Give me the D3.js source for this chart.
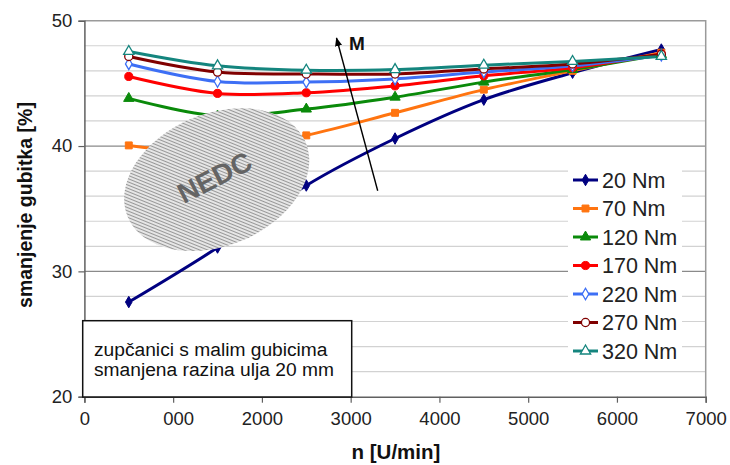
<!DOCTYPE html>
<html><head><meta charset="utf-8">
<script src="https://cdn.jsdelivr.net/npm/d3@7"></script>
<style>
html,body{margin:0;padding:0;background:#fff;}
svg{display:block;font-family:Arial,"Liberation Sans",sans-serif;}
</style></head>
<body>
<svg id="chart" width="730" height="465"></svg>
<script>
// ---- data ----
const speeds = [500, 1500, 2500, 3500, 4500, 5500, 6500];
const seriesNames = ["20 Nm", "70 Nm", "120 Nm", "170 Nm", "220 Nm", "270 Nm", "320 Nm"];
const nm20  = [27.55, 31.9, 36.85, 40.6, 43.7, 45.85, 47.7];
const nm70  = [40.05, 39.5, 40.85, 42.65, 44.5, 46.0, 47.45];
const nm120 = [43.8, 42.4, 42.95, 43.9, 45.1, 46.1, 47.3];
const nm170 = [45.55, 44.2, 44.25, 44.8, 45.6, 46.25, 47.35];
const nm220 = [46.55, 45.15, 45.1, 45.35, 45.9, 46.4, 47.25];
const nm270 = [47.15, 45.9, 45.75, 45.75, 46.15, 46.55, 47.3];
const nm320 = [47.55, 46.4, 46.05, 46.1, 46.45, 46.75, 47.15];
const xTicks = [0, 1000, 2000, 3000, 4000, 5000, 6000, 7000];
const xTickLabels = ["0", "000", "2000", "3000", "4000", "5000", "6000", "7000"];
const yTicks = [20, 30, 40, 50];
const yGrid = [22, 24, 26, 28, 32, 34, 36, 38, 42, 44, 46, 48];
const colors = ["#000080", "#ff7410", "#0a8a0a", "#ff0000", "#3d6ff5", "#800000", "#14857e"];
const markers = ["diamond", "square", "triangle", "circle", "diamond", "circle", "triangle"];
const hollow = [false, false, false, false, true, true, true];
const allValues = [nm20, nm70, nm120, nm170, nm220, nm270, nm320];

// ---- layout ----
const L = 84.4, R = 705.7, T = 20.7, B = 396.7;
const svg = d3.select("#chart");
const x = d3.scaleLinear().domain([0, 7000]).range([L, R]);
const y = d3.scaleLinear().domain([20, 50]).range([B, T]);

// minor gridlines
svg.append("g").selectAll("line").data(yGrid).join("line")
  .attr("x1", L).attr("x2", R).attr("y1", d => y(d)).attr("y2", d => y(d))
  .attr("stroke", "#d2d2d2").attr("stroke-width", 1.2);
// major gridlines
svg.append("g").selectAll("line").data(yTicks.filter(d => d > 20 && d < 50)).join("line")
  .attr("x1", L).attr("x2", R).attr("y1", d => y(d)).attr("y2", d => y(d))
  .attr("stroke", "#8a8a8a").attr("stroke-width", 1.2);
// top & right border
svg.append("path").attr("d", `M${L},${T}H${R}V${B}`).attr("fill", "none")
  .attr("stroke", "#9a9a9a").attr("stroke-width", 1.5);

// series
const line = d3.line().x((d, i) => x(speeds[i])).y(d => y(d)).curve(d3.curveCatmullRom.alpha(0.5));
const symType = {diamond: d3.symbolDiamond, square: d3.symbolSquare, triangle: d3.symbolTriangle, circle: d3.symbolCircle};
const symSize = {diamond: 38, square: 48, triangle: 46, circle: 52};

const gS = svg.append("g");
allValues.forEach((vals, si) => {
  gS.append("path").attr("d", line(vals)).attr("fill", "none")
    .attr("stroke", colors[si]).attr("stroke-width", 3);
});
allValues.forEach((vals, si) => {
  gS.append("g").selectAll("path").data(vals).join("path")
    .attr("transform", (d, i) => `translate(${x(speeds[i])},${y(d)})`)
    .attr("d", d3.symbol().type(symType[markers[si]]).size(symSize[markers[si]]))
    .attr("fill", hollow[si] ? "#fff" : colors[si])
    .attr("stroke", colors[si]).attr("stroke-width", hollow[si] ? 1.3 : 1);
});

// NEDC ellipse with hatching
const defs = svg.append("defs");
const pat = defs.append("pattern").attr("id", "hatch").attr("patternUnits", "userSpaceOnUse")
  .attr("width", 3).attr("height", 3).attr("patternTransform", "rotate(-45)");
pat.append("rect").attr("width", 3).attr("height", 3).attr("fill", "#e6e6e6");
pat.append("line").attr("x1", 0).attr("y1", 0).attr("x2", 0).attr("y2", 3)
  .attr("stroke", "#7c7c7c").attr("stroke-width", 1.5);
const ell = svg.append("g").attr("transform", "translate(216.7,179.7) rotate(-22.8)");
ell.append("ellipse").attr("rx", 96.5).attr("ry", 66).attr("fill", "url(#hatch)");
svg.append("text").attr("transform", "translate(219,186) rotate(-27)")
  .attr("text-anchor", "middle").attr("font-weight", "bold").attr("font-size", 28)
  .attr("fill", "#646464").text("NEDC");

// arrow M
defs.append("marker").attr("id", "arrowhead").attr("viewBox", "0 0 10 10")
  .attr("refX", 9).attr("refY", 5).attr("markerWidth", 9).attr("markerHeight", 9)
  .attr("markerUnits", "userSpaceOnUse").attr("orient", "auto")
  .append("path").attr("d", "M0,1 L10,5 L0,9 Z").attr("fill", "#000");
svg.append("line").attr("x1", 377.7).attr("y1", 190.7).attr("x2", 336.5).attr("y2", 38)
  .attr("stroke", "#000").attr("stroke-width", 1.4).attr("marker-end", "url(#arrowhead)");
svg.append("text").attr("x", 349).attr("y", 50).attr("font-weight", "bold")
  .attr("font-size", 19).attr("fill", "#111").text("M");

// axes
const yAxis = svg.append("g").attr("transform", `translate(${L},0)`)
  .call(d3.axisLeft(y).tickValues(yTicks).tickSize(6).tickPadding(6).tickFormat(d3.format("d")));
const xAxis = svg.append("g").attr("transform", `translate(0,${B})`)
  .call(d3.axisBottom(x).tickValues(xTicks).tickSize(6).tickPadding(9)
    .tickFormat((d, i) => xTickLabels[i]));
[yAxis, xAxis].forEach(g => {
  g.select(".domain").attr("stroke", "#606060").attr("stroke-width", 1.5);
  g.selectAll(".tick line").attr("stroke", "#606060").attr("stroke-width", 1.2);
  g.selectAll(".tick text").attr("font-size", 18.5).attr("fill", "#222")
    .attr("font-family", "Arial, 'Liberation Sans', sans-serif");
});
xAxis.selectAll(".tick text").filter((d, i) => i === 1).attr("dx", 5);

// annotation box
const box = svg.append("g");
box.append("rect").attr("x", 82.7).attr("y", 320.7).attr("width", 269).attr("height", 76.3)
  .attr("fill", "#fff").attr("stroke", "#111").attr("stroke-width", 1.5);
box.append("text").attr("x", 94).attr("y", 356).attr("font-size", 19.2).attr("fill", "#111")
  .text("zupčanici s malim gubicima");
box.append("text").attr("x", 94).attr("y", 376).attr("font-size", 19.2).attr("fill", "#111")
  .text("smanjena razina ulja 20 mm");

// legend
const lg = svg.append("g");
lg.append("rect").attr("x", 568).attr("y", 164).attr("width", 114).attr("height", 202).attr("fill", "#fff");
seriesNames.forEach((name, si) => {
  const yy = 180 + si * 28.5;
  lg.append("line").attr("x1", 573).attr("x2", 598).attr("y1", yy).attr("y2", yy)
    .attr("stroke", colors[si]).attr("stroke-width", 3);
  lg.append("path").attr("transform", `translate(585.5,${yy})`)
    .attr("d", d3.symbol().type(symType[markers[si]]).size(symSize[markers[si]]))
    .attr("fill", hollow[si] ? "#fff" : colors[si])
    .attr("stroke", colors[si]).attr("stroke-width", hollow[si] ? 1.3 : 1);
  lg.append("text").attr("x", 602).attr("y", yy + 7.5).attr("font-size", 21.5).attr("fill", "#222")
    .text(name);
});

// axis titles
svg.append("text").attr("transform", "translate(32,205) rotate(-90)").attr("text-anchor", "middle")
  .attr("font-weight", "bold").attr("font-size", 19.5).attr("fill", "#111").text("smanjenje gubitka [%]");
svg.append("text").attr("x", 396).attr("y", 459).attr("text-anchor", "middle")
  .attr("font-weight", "bold").attr("font-size", 20.5).attr("fill", "#111").text("n [U/min]");
</script>
</body></html>
